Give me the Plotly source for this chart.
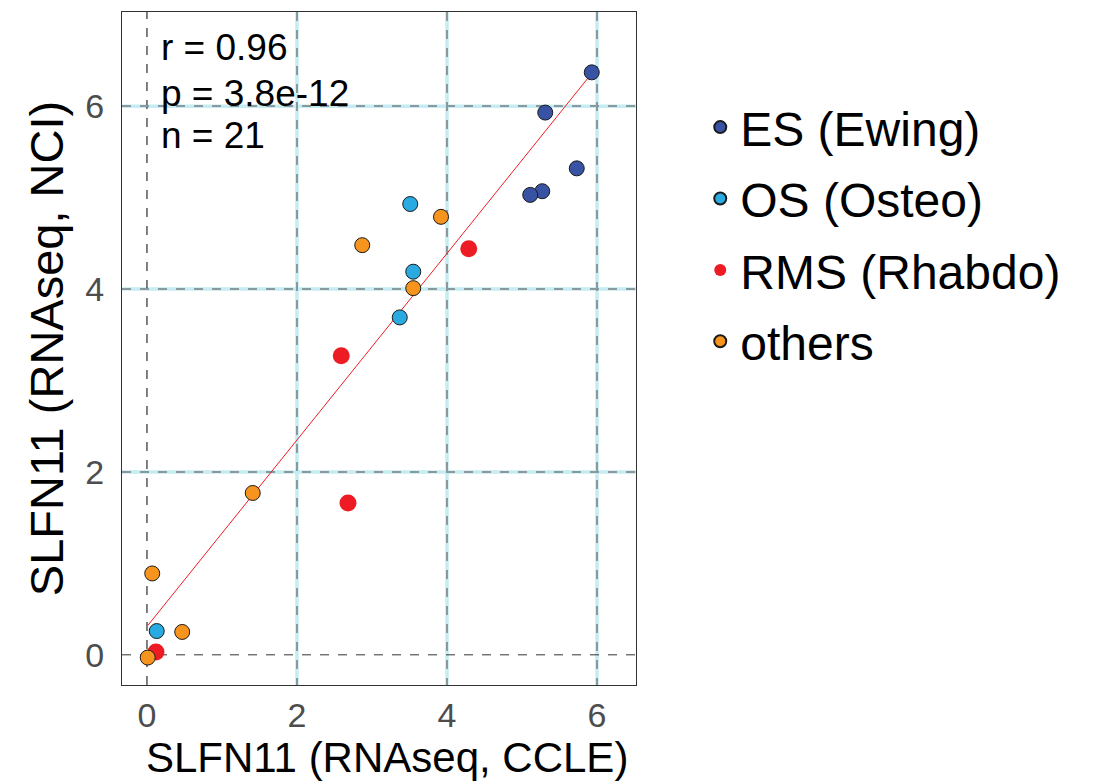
import plotly.graph_objects as go

# ---- data ----
groups = ["ES (Ewing)", "OS (Osteo)", "RMS (Rhabdo)", "others"]
colors = ["#3953a4", "#29abe2", "#ed1c24", "#f7941d"]

es_x = [5.93, 5.31, 5.73, 5.27, 5.11]
es_y = [6.37, 5.93, 5.32, 5.07, 5.03]
os_x = [3.51, 3.55, 3.37, 0.13]
os_y = [4.93, 4.19, 3.69, 0.26]
rms_x = [4.29, 2.59, 2.68, 0.12]
rms_y = [4.44, 3.27, 1.66, 0.03]
oth_x = [3.92, 2.87, 3.55, 1.41, 0.07, 0.47, 0.01]
oth_y = [4.79, 4.48, 4.01, 1.77, 0.89, 0.25, -0.03]

fit_intercept = 0.31
fit_slope = 1.02
stats_lines = ["r = 0.96", "p = 3.8e-12", "n = 21"]
ticks = [0, 2, 4, 6]
x_title = "SLFN11 (RNAseq, CCLE)"
y_title = "SLFN11 (RNAseq, NCI)"

xs = [es_x, os_x, rms_x, oth_x]
ys = [es_y, os_y, rms_y, oth_y]

fig = go.Figure()

# regression line
all_x = es_x + os_x + rms_x + oth_x
x0, x1 = min(all_x), max(all_x)
fig.add_trace(go.Scatter(
    x=[x0, x1], y=[fit_intercept + fit_slope * x0, fit_intercept + fit_slope * x1],
    mode="lines", line=dict(color="#ed1c24", width=1), showlegend=False, hoverinfo="skip"))

for name, col, gx, gy in zip(groups, colors, xs, ys):
    is_red = name.startswith("RMS")
    fig.add_trace(go.Scatter(
        x=gx, y=gy, mode="markers", name=name, legendgroup=name,
        marker=dict(color=col, size=17 if is_red else 15,
                    line=dict(color=col if is_red else "#1a1a1a", width=0 if is_red else 1))))

grid_vals = [t for t in ticks if t != 0]

# light cyan underlay beneath the dashed grid lines
shapes = []
for t in grid_vals:
    shapes.append(dict(type="line", xref="x", yref="paper", x0=t, x1=t, y0=0, y1=1,
                       line=dict(color="#c4ecf2", width=3.5), layer="below"))
    shapes.append(dict(type="line", xref="paper", yref="y", x0=0, x1=1, y0=t, y1=t,
                       line=dict(color="#c4ecf2", width=3.5), layer="below"))
# dashed zero lines (between grid and data)
shapes.append(dict(type="line", xref="x", yref="paper", x0=0, x1=0, y0=0, y1=1,
                   line=dict(color="#000000", width=1, dash="dash"), layer="between"))
shapes.append(dict(type="line", xref="paper", yref="y", x0=0, x1=1, y0=0, y1=0,
                   line=dict(color="#333333", width=1, dash="dash"), layer="between"))

annotations = []
centers = [47, 93, 135]
for txt, cy in zip(stats_lines, centers):
    annotations.append(dict(text=txt, xref="paper", yref="paper",
                            x=(159 - 122) / 514, y=1 - (cy - 12) / 673,
                            xanchor="left", yanchor="middle", showarrow=False,
                            font=dict(size=37, color="#000000")))
# x axis title as an annotation pinned to the bottom edge
annotations.append(dict(text=x_title, xref="paper", yref="paper",
                        x=(387 - 122) / 514, y=-(782 - 685) / 673,
                        xanchor="center", yanchor="bottom", showarrow=False, borderpad=0,
                        font=dict(size=42, color="#000000")))

axis_common = dict(
    tickvals=ticks, showgrid=False, automargin=False,
    zeroline=False, showline=True, linecolor="#333333", linewidth=1, mirror=True,
    ticks="", tickfont=dict(size=34, color="#4d4d4d"),
    minor=dict(tickvals=grid_vals, showgrid=True, gridcolor="#8a9a9c", gridwidth=1.5,
               griddash="dash", ticks=""),
)

fig.update_layout(
    width=1095, height=782,
    margin=dict(l=122, r=459, t=12, b=97),
    paper_bgcolor="white", plot_bgcolor="white",
    font=dict(family="Liberation Sans, Arial, sans-serif"),
    shapes=shapes, annotations=annotations,
    legend=dict(x=1.125, y=0.885, xanchor="left", yanchor="top",
                font=dict(size=48, color="#000000"),
                traceorder="grouped", tracegroupgap=6,
                itemsizing="constant", bgcolor="rgba(0,0,0,0)"),
    xaxis=dict(range=[-0.333, 6.52], ticklabelstandoff=0, **axis_common),
    yaxis=dict(range=[-0.33, 7.03], ticklabelstandoff=10,
               title=dict(text=y_title, font=dict(size=47, color="#000000"), standoff=6),
               **axis_common),
)

fig.write_html("out.html")
